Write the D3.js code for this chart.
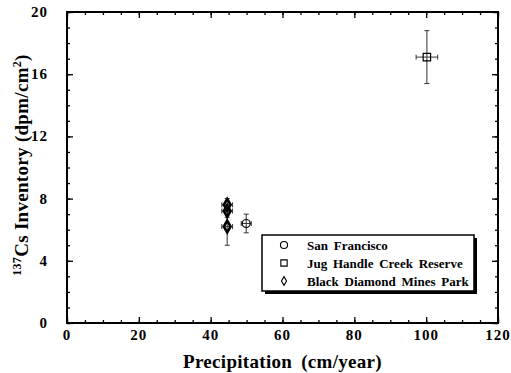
<!DOCTYPE html>
<html>
<head>
<meta charset="utf-8">
<script src="https://cdn.jsdelivr.net/npm/d3@7"></script>
<style>
  body { margin: 0; background: #fff; }
  svg { display: block; }
  .domain { display: none; }
  .tick line { stroke: #000; stroke-width: 1.3; }
</style>
</head>
<body>
<svg id="chart" width="511" height="373"></svg>
<script>
// series: San Francisco, Jug Handle Creek Reserve, Black Diamond Mines Park
const siteNames = ["San Francisco", "Jug Handle Creek Reserve", "Black Diamond Mines Park"];

const sfX = [49.9], sfY = [6.4], sfXErr = [1.4], sfYErr = [0.6];
const jugX = [100.2], jugY = [17.1], jugXErr = [3.0], jugYErr = [1.7];
const bdX = [44.6, 44.6, 44.6], bdY = [7.6, 7.2, 6.2], bdXErr = [1.5, 1.5, 1.5], bdYErr = [0.4, 0.4, 1.2];

const xTicks = [0, 20, 40, 60, 80, 100, 120];
const yTicks = [0, 4, 8, 12, 16, 20];

const margin = {top: 12, right: 13, bottom: 50, left: 67};
const width = 511 - margin.left - margin.right;
const height = 373 - margin.top - margin.bottom;

const svg = d3.select("#chart");
const g = svg.append("g").attr("transform", "translate(" + margin.left + "," + margin.top + ")");

const x = d3.scaleLinear().domain([0, 120]).range([0, width]);
const y = d3.scaleLinear().domain([0, 20]).range([height, 0]);

const serif = "Liberation Serif";

// minor ticks
g.append("g").attr("transform", "translate(0," + height + ")")
  .call(d3.axisBottom(x).tickValues(d3.range(0, 121, 5)).tickSize(-3).tickFormat(() => ""));
g.append("g")
  .call(d3.axisTop(x).tickValues(d3.range(0, 121, 5)).tickSize(-3).tickFormat(() => ""));
g.append("g")
  .call(d3.axisLeft(y).tickValues(d3.range(0, 21, 1)).tickSize(-3).tickFormat(() => ""));
g.append("g").attr("transform", "translate(" + width + ",0)")
  .call(d3.axisRight(y).tickValues(d3.range(0, 21, 1)).tickSize(-3).tickFormat(() => ""));

// major ticks
g.append("g").attr("transform", "translate(0," + height + ")")
  .call(d3.axisBottom(x).tickValues(xTicks).tickSize(-6).tickFormat(() => ""));
g.append("g")
  .call(d3.axisTop(x).tickValues(xTicks).tickSize(-6).tickFormat(() => ""));
g.append("g")
  .call(d3.axisLeft(y).tickValues(yTicks).tickSize(-6).tickFormat(() => ""));
g.append("g").attr("transform", "translate(" + width + ",0)")
  .call(d3.axisRight(y).tickValues(yTicks).tickSize(-6).tickFormat(() => ""));

// tick labels
g.append("g").selectAll("text").data(xTicks).enter().append("text")
  .attr("x", d => x(d)).attr("y", height + 17)
  .attr("text-anchor", "middle")
  .attr("font-family", serif).attr("font-weight", "bold").attr("font-size", 15)
  .attr("letter-spacing", 1)
  .text(d => d);
g.append("g").selectAll("text").data(yTicks).enter().append("text")
  .attr("x", -19).attr("y", d => y(d) + 5)
  .attr("text-anchor", "end")
  .attr("font-family", serif).attr("font-weight", "bold").attr("font-size", 15)
  .attr("letter-spacing", 1)
  .text(d => d);

// frame
g.append("rect").attr("width", width).attr("height", height)
  .attr("fill", "none").attr("stroke", "#000").attr("stroke-width", 2);

// error bars + markers
function drawSeries(xs, ys, xe, ye, symbol, size, sw) {
  const data = xs.map((v, i) => ({x: v, y: ys[i], xe: xe[i], ye: ye[i]}));
  const s = g.append("g");
  data.forEach(d => {
    const cx = x(d.x), cy = y(d.y);
    s.append("line").attr("x1", cx).attr("x2", cx).attr("y1", y(d.y - d.ye)).attr("y2", y(d.y + d.ye))
      .attr("stroke", "#333").attr("stroke-width", 1);
    s.append("line").attr("x1", x(d.x - d.xe)).attr("x2", x(d.x + d.xe)).attr("y1", cy).attr("y2", cy)
      .attr("stroke", "#333").attr("stroke-width", 1);
    [y(d.y - d.ye), y(d.y + d.ye)].forEach(yy => {
      s.append("line").attr("x1", cx - 2.5).attr("x2", cx + 2.5).attr("y1", yy).attr("y2", yy)
        .attr("stroke", "#333").attr("stroke-width", 1);
    });
    [x(d.x - d.xe), x(d.x + d.xe)].forEach(xx => {
      s.append("line").attr("x1", xx).attr("x2", xx).attr("y1", cy - 2.5).attr("y2", cy + 2.5)
        .attr("stroke", "#333").attr("stroke-width", 1);
    });
  });
  s.selectAll("path.m").data(data).enter().append("path")
    .attr("class", "m")
    .attr("transform", d => "translate(" + x(d.x) + "," + y(d.y) + ")")
    .attr("d", d3.symbol().type(symbol).size(size))
    .attr("fill", "none").attr("stroke", "#000").attr("stroke-width", sw);
}

drawSeries(sfX, sfY, sfXErr, sfYErr, d3.symbolCircle, 50, 1.2);
drawSeries(jugX, jugY, jugXErr, jugYErr, d3.symbolSquare, 55, 1.2);
drawSeries(bdX, bdY, bdXErr, bdYErr, d3.symbolDiamond, 40, 2.6);

// legend
const lg = g.append("g").attr("transform", "translate(" + (262 - margin.left) + "," + (235 - margin.top) + ")");
const lw = 212, lh = 56;
lg.append("rect").attr("x", 3).attr("y", 3).attr("width", lw).attr("height", lh).attr("fill", "#000");
lg.append("rect").attr("width", lw).attr("height", lh).attr("fill", "#fff").attr("stroke", "#000").attr("stroke-width", 1.5);
const legSymbols = [[d3.symbolCircle, 40], [d3.symbolSquare, 40], [d3.symbolDiamond, 22]];
siteNames.forEach((name, i) => {
  const ry = 10 + i * 18;
  lg.append("path").attr("transform", "translate(22," + ry + ")")
    .attr("d", d3.symbol().type(legSymbols[i][0]).size(legSymbols[i][1]))
    .attr("fill", "none").attr("stroke", "#000").attr("stroke-width", 1.1);
  lg.append("text").attr("x", 45).attr("y", ry + 4.5)
    .attr("font-family", serif).attr("font-weight", "bold").attr("font-size", 13)
    .attr("word-spacing", 2.5).text(name);
});

// axis titles
svg.append("text").attr("x", margin.left + width / 2).attr("y", 368)
  .attr("text-anchor", "middle").attr("font-family", serif).attr("font-weight", "bold")
  .attr("font-size", 19).attr("word-spacing", 4).attr("letter-spacing", 0.3)
  .text("Precipitation (cm/year)");

const yt = svg.append("text")
  .attr("transform", "translate(28,165) rotate(-90)")
  .attr("text-anchor", "middle").attr("font-family", serif).attr("font-weight", "bold")
  .attr("font-size", 19).attr("letter-spacing", 0.3);
yt.append("tspan").attr("font-size", 12).attr("dy", -7).text("137");
yt.append("tspan").attr("dy", 7).text("Cs Inventory (dpm/cm");
yt.append("tspan").attr("font-size", 12).attr("dy", -7).text("2");
yt.append("tspan").attr("dy", 7).text(")");
</script>
</body>
</html>
